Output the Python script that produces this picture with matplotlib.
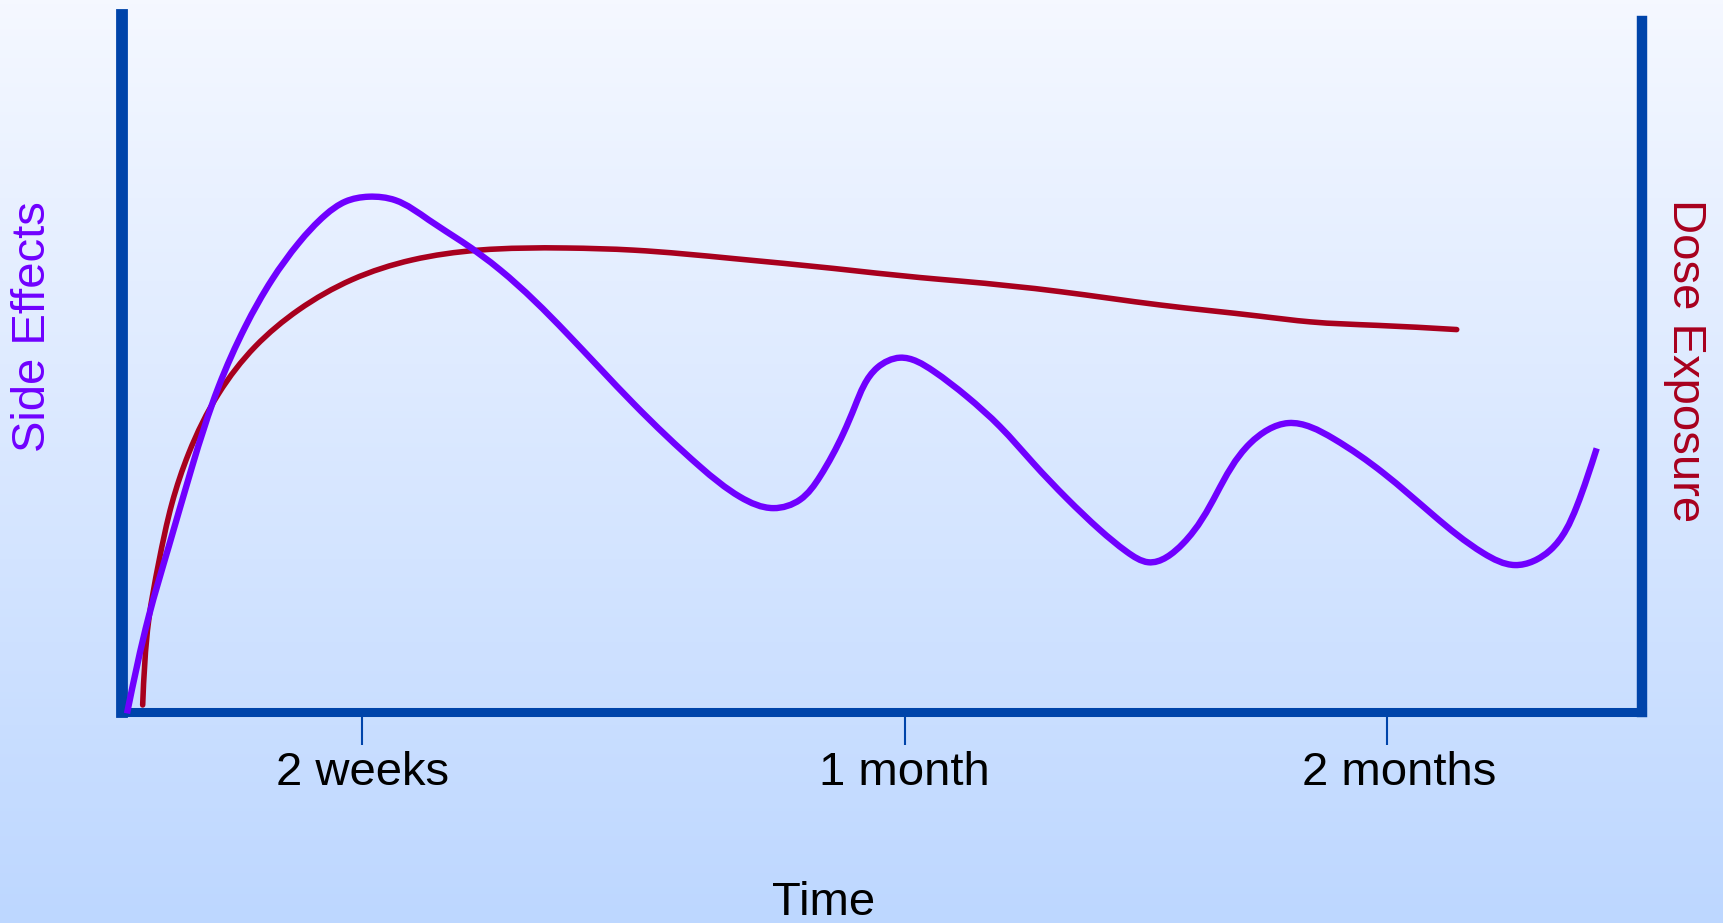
import numpy as np
import matplotlib
matplotlib.use("Agg")
import matplotlib.pyplot as plt
from matplotlib.path import Path
from matplotlib.patches import PathPatch
from matplotlib.transforms import ScaledTranslation

plt.rcParams['font.family'] = ['Liberation Sans', 'DejaVu Sans']

# schematic time axis (0 = start, 100 = right edge) and response level (0-100)
side_x = [0.33, 1.76, 3.07, 4.61, 6.36, 8.11, 9.87, 11.62, 13.38, 14.69, 16.23,
          17.98, 20.18, 22.37, 24.87, 29.25, 33.64, 38.03, 40.66, 42.85, 44.61,
          45.92, 47.45, 48.22, 49.70, 51.18, 53.38, 55.57, 57.76, 59.95, 62.15,
          64.34, 66.10, 67.52, 69.82, 72.02, 74.21, 76.73, 79.69, 82.98, 86.27,
          89.56, 91.64, 93.95, 95.70, 97.02]
side_y = [-0.2, 13.6, 23.5, 34.9, 46.3, 54.8, 61.5, 66.7, 70.7, 72.6, 73.3,
          72.8, 70.0, 66.9, 62.9, 53.9, 43.9, 34.9, 30.6, 29.0, 30.2,
          33.5, 39.6, 43.5, 49.0, 50.4, 48.5, 44.9, 40.6, 35.4, 30.4,
          25.9, 22.8, 21.3, 24.0, 31.1, 38.2, 41.1, 38.9, 34.0, 28.0,
          22.6, 20.9, 23.0, 29.2, 37.5]

dose_x = [1.36, 1.76, 2.41, 3.29, 4.39, 6.36, 8.77, 11.62, 15.13, 19.08, 23.47,
          29.25, 33.64, 40.22, 46.80, 52.50, 55.13, 61.71, 68.29, 74.87, 78.16,
          82.55, 87.81]
dose_y = [1.0, 13.1, 21.2, 29.7, 36.8, 45.3, 52.0, 57.2, 61.5, 64.3, 65.7,
          66.0, 65.7, 64.5, 63.1, 61.8, 61.3, 59.8, 57.9, 56.3, 55.5,
          55.0, 54.4]

tick_pos = [15.8, 51.5, 83.2]
tick_labels = ['2 weeks', '1 month', '2 months']

purple = '#7000FF'
red = '#A8001E'
blue = '#0044AA'

# pixels per data unit, so the curve is built in on-screen proportions
px_scale = np.array([15.2, 7.03])


def smooth_path(xs, ys):
    # natural cubic spline through the points (chord-length parameter), as bezier segments
    p = np.column_stack([xs, ys]).astype(float) * px_scale
    n = len(p)
    h = np.linalg.norm(np.diff(p, axis=0), axis=1)
    A = np.zeros((n, n))
    r = np.zeros((n, 2))
    A[0, 0] = A[-1, -1] = 1
    for i in range(1, n - 1):
        A[i, i - 1] = h[i - 1]
        A[i, i] = 2 * (h[i - 1] + h[i])
        A[i, i + 1] = h[i]
        r[i] = 6 * ((p[i + 1] - p[i]) / h[i] - (p[i] - p[i - 1]) / h[i - 1])
    M = np.linalg.solve(A, r)
    verts = [p[0]]
    codes = [Path.MOVETO]
    for i in range(n - 1):
        s = (p[i + 1] - p[i]) / h[i]
        d0 = s - h[i] * (2 * M[i] + M[i + 1]) / 6
        d1 = s + h[i] * (M[i] + 2 * M[i + 1]) / 6
        verts += [p[i] + d0 * h[i] / 3, p[i + 1] - d1 * h[i] / 3, p[i + 1]]
        codes += [Path.CURVE4] * 3
    return Path(np.array(verts) / px_scale, codes)


fig = plt.figure(figsize=(17.23, 9.23), dpi=100)

# vertical background gradient
bg = fig.add_axes([0, 0, 1, 1])
grad = np.linspace(0, 1, 256).reshape(-1, 1)
top = np.array([245, 248, 255]) / 255
bottom = np.array([189, 215, 255]) / 255
img = top + (bottom - top) * grad[:, :, None]
bg.imshow(img, aspect='auto', extent=[0, 1, 0, 1])
bg.axis('off')

ax = fig.add_axes([122 / 1723, 1 - 712 / 923, 1520 / 1723, 703 / 923])
ax.patch.set_alpha(0)
ax.set_xlim(0, 100)
ax.set_ylim(0, 100)

ax.add_patch(PathPatch(smooth_path(dose_x, dose_y), fill=False, edgecolor=red,
                       lw=4.0, capstyle='round', joinstyle='round',
                       clip_on=False, zorder=3))
ax.add_patch(PathPatch(smooth_path(side_x, side_y), fill=False, edgecolor=purple,
                       lw=4.6, capstyle='butt', joinstyle='round',
                       clip_on=False, zorder=4))

ax.spines['top'].set_visible(False)
ax.spines['left'].set_color(blue)
ax.spines['left'].set_linewidth(8.5)
ax.spines['left'].set_bounds(0, 99.2)
ax.spines['right'].set_color(blue)
ax.spines['right'].set_linewidth(7.5)
ax.spines['right'].set_bounds(0, 98.3)
ax.spines['bottom'].set_color(blue)
ax.spines['bottom'].set_linewidth(6.5)

ax.set_yticks([])
ax.set_xticks(tick_pos, tick_labels)
ax.tick_params(axis='x', direction='out', length=24, width=1.5, color=blue,
               labelsize=34, pad=4)
lbl = ax.get_xticklabels()[2]
lbl.set_transform(lbl.get_transform() + ScaledTranslation(0.13, 0, fig.dpi_scale_trans))

fig.text(33 / 1723, 1 - 327 / 923, 'Side Effects', color=purple, fontsize=34,
         rotation=90, ha='center', va='center')
fig.text(1685 / 1723, 1 - 361 / 923, 'Dose Exposure', color=red, fontsize=34,
         rotation=270, ha='center', va='center')
fig.text(824 / 1723, 1 - 903 / 923, 'Time', color='black', fontsize=34,
         ha='center', va='center')

fig.savefig('out.png', dpi=100)
